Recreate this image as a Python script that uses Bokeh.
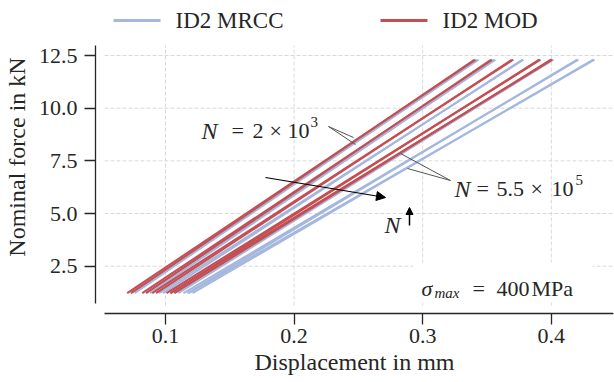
from bokeh.plotting import figure
from bokeh.models import (Range1d, FixedTicker, Label, Arrow, NormalHead, BoxAnnotation)
from bokeh.embed import file_html
from bokeh.resources import INLINE

# ---- data ----
force_min = 1.22
force_max = 12.30
# loading branches
mrcc_load_at_min = [0.073, 0.085, 0.095, 0.107, 0.114, 0.118]
mrcc_load_at_max = [0.3434, 0.3566, 0.3784, 0.4017, 0.4211, 0.4336]
mod_load_at_min = [0.0702, 0.0819, 0.0897, 0.1008, 0.1039]
mod_load_at_max = [0.3411, 0.3540, 0.3704, 0.3916, 0.4007]
# unloading branches
mrcc_unload_at_min = [0.076, 0.088, 0.098, 0.110, 0.117, 0.121]
mrcc_unload_at_max = [0.3424, 0.3556, 0.3774, 0.4007, 0.4201, 0.4326]
mod_unload_at_min = [0.0732, 0.0849, 0.0927, 0.1038, 0.1069]
mod_unload_at_max = [0.3401, 0.3530, 0.3694, 0.3906, 0.3997]

x_ticks = [0.1, 0.2, 0.3, 0.4]
x_tick_labels = ["0.1", "0.2", "0.3", "0.4"]
y_ticks = [2.5, 5.0, 7.5, 10.0, 12.5]
y_tick_labels = ["2.5", "5.0", "7.5", "10.0", "12.5"]

series_names = ["ID2 MRCC", "ID2 MOD"]
series_colors = ["#a4b7de", "#c44e52"]

FONT = "Liberation Serif"
TXT = "#262626"

# pixel -> data helpers (for annotation placement)
def px_x(px):
    return 0.1 + (px - 165) / 1286.0

def px_y(py):
    return 2.5 + (265.7 - py) / 21.07

X0, X1 = px_x(95), px_x(613)
Y0, Y1 = px_y(313), px_y(0)     # frame reaches the top so the legend can live inside it
Y_TOP = px_y(45)                # top of the axes area

p = figure(width=614, height=382, x_range=Range1d(X0, X1), y_range=Range1d(Y0, Y1),
           output_backend="svg", toolbar_location=None,
           min_border_left=95, min_border_right=1, min_border_top=0, min_border_bottom=69)
p.outline_line_color = None
p.xgrid.visible = False
p.ygrid.visible = False
p.background_fill_color = "white"
p.border_fill_color = "white"

# axes
for ax, ticks, labels in ((p.xaxis[0], x_ticks, x_tick_labels), (p.yaxis[0], y_ticks, y_tick_labels)):
    ax.ticker = FixedTicker(ticks=ticks)
    ax.major_label_overrides = {t: l for t, l in zip(ticks, labels)}
    ax.minor_tick_line_color = None
    ax.major_tick_in = 0
    ax.major_tick_out = 11
    ax.axis_line_color = TXT
    ax.axis_line_width = 1.3
    ax.major_tick_line_color = TXT
    ax.major_tick_line_width = 1.3
    ax.major_label_text_font = FONT
    ax.major_label_text_font_size = "22px"
    ax.major_label_text_color = TXT
    ax.axis_label_text_font = FONT
    ax.axis_label_text_font_size = "24px"
    ax.axis_label_text_font_style = "normal"
    ax.axis_label_text_color = TXT

p.xaxis.axis_label = "Displacement in mm"
p.yaxis.axis_label = "Nominal force in kN"
p.xaxis.major_label_standoff = 4
p.xaxis.axis_label_standoff = 3
p.yaxis.major_label_standoff = 7
p.yaxis.axis_label_standoff = 6
p.xaxis.bounds = (px_x(104), X1)
p.yaxis.bounds = (px_y(303), Y_TOP)

# grid (dashed, limited like the reference)
p.segment(x0=x_ticks, x1=x_ticks, y0=[px_y(305)] * len(x_ticks), y1=[Y_TOP] * len(x_ticks),
          line_color="#d9d9d9", line_width=1, line_dash="4 2")
p.segment(x0=[px_x(104)] * len(y_ticks), x1=[X1] * len(y_ticks), y0=y_ticks, y1=y_ticks,
          line_color="#d9d9d9", line_width=1, line_dash="4 2")


def branches(at_min, at_max):
    return [[a, b] for a, b in zip(at_min, at_max)], [[force_min, force_max] for _ in at_min]

# curves
xs, ys = branches(mrcc_load_at_min + mrcc_unload_at_min, mrcc_load_at_max + mrcc_unload_at_max)
p.multi_line(xs=xs, ys=ys, line_color=series_colors[0], line_width=2.0)
xs, ys = branches(mod_load_at_min + mod_unload_at_min, mod_load_at_max + mod_unload_at_max)
p.multi_line(xs=xs, ys=ys, line_color=series_colors[1], line_width=2.0)

# leader lines
lead_c = "#555555"
p.segment(x0=[px_x(328), px_x(328), px_x(450), px_x(450)],
          y0=[px_y(126), px_y(126), px_y(180), px_y(180)],
          x1=[px_x(353), px_x(355), px_x(400), px_x(407)],
          y1=[px_y(137), px_y(144), px_y(153), px_y(168)],
          line_color=lead_c, line_width=1)

# arrows
p.add_layout(Arrow(x_start=px_x(265), y_start=px_y(177), x_end=px_x(385), y_end=px_y(197),
                   line_color="black", line_width=1.2,
                   end=NormalHead(size=9, fill_color="black", line_color="black")))
p.add_layout(Arrow(x_start=px_x(409), y_start=px_y(225), x_end=px_x(409), y_end=px_y(207),
                   line_color="black", line_width=1.5,
                   end=NormalHead(size=7, fill_color="black", line_color="black")))

# white box behind sigma label
p.add_layout(BoxAnnotation(left=px_x(413), right=px_x(592), bottom=px_y(302), top=px_y(262),
                           fill_color="white", fill_alpha=1.0, line_alpha=0))


def lab(x, y, text, size="22px", style="normal", align="left", baseline="alphabetic"):
    p.add_layout(Label(x=px_x(x), y=px_y(y), text=text, text_font=FONT, text_font_size=size,
                       text_font_style=style, text_color=TXT, text_align=align,
                       text_baseline=baseline))

# N = 2 x 10^3
lab(201, 130, "N", size="24px", style="italic")
lab(231, 130, "=")
lab(252, 130, "2")
lab(269, 130, "×")
lab(287, 130, "10")
lab(310, 121, "3", size="15px")
# N = 5.5 x 10^5
lab(454, 188, "N", size="24px", style="italic")
lab(476, 188, "=")
lab(496, 188, "5.5")
lab(530, 188, "×")
lab(551, 188, "10")
lab(575, 179, "5", size="15px")
# N arrow
lab(384, 224, "N", size="24px", style="italic")
# sigma_max
lab(421, 288, "σ", size="22px", style="italic")
lab(434, 292, "max", size="15px", style="italic")
lab(472, 288, "=", size="22px")
lab(496, 288, "400", size="22px")
lab(531, 288, "MPa", size="22px")

# legend (drawn by hand above the axes area)
sample_left = [113, 380]
sample_len = 47
p.segment(x0=[px_x(s) for s in sample_left], x1=[px_x(s + sample_len) for s in sample_left],
          y0=[px_y(20)] * 2, y1=[px_y(20)] * 2, line_color=series_colors, line_width=2.8)
for s, name in zip(sample_left, series_names):
    lab(s + sample_len + 15, 20, name, size="23px", baseline="middle")

open("out.html", "w").write(file_html(p, INLINE))
